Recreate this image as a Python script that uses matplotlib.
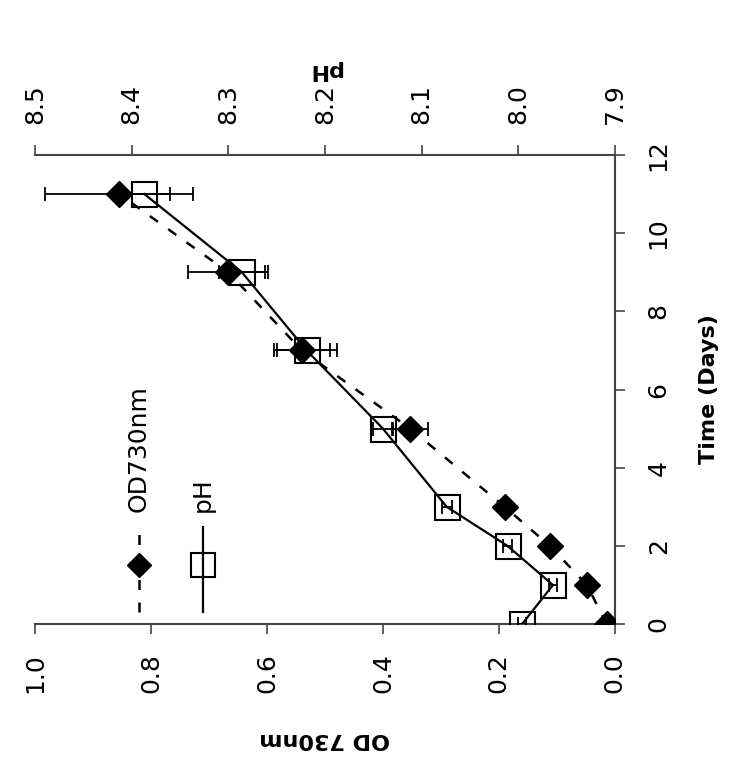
import numpy as np
import matplotlib.pyplot as plt

days = [0, 1, 2, 3, 5, 7, 9, 11]
od730 = [0.014, 0.048, 0.112, 0.19, 0.353, 0.54, 0.667, 0.855]
od_err = [0.005, 0.006, 0.008, 0.01, 0.031, 0.048, 0.069, 0.128]
ph = [7.996, 7.964, 8.011, 8.074, 8.14, 8.219, 8.286, 8.387]
ph_err = [0.004, 0.004, 0.005, 0.005, 0.01, 0.031, 0.024, 0.027]

od_ticks = np.arange(0, 1.01, 0.2)
ph_ticks = np.arange(7.9, 8.51, 0.1)
day_ticks = np.arange(0, 13, 2)

plt.rcParams['font.family'] = 'DejaVu Sans'
spine_col = '#444444'

fig = plt.figure(figsize=(7.47, 7.63), dpi=100)
# chart is drawn turned by 90 degrees: time runs upward, OD/pH run right to left
ax = fig.add_axes([0.047, 0.182, 0.776, 0.615])
ax2 = ax.twiny()

# OD730nm series
ax.plot(od730, days, color='k', lw=1.8, ls=(0, (4, 5)), zorder=3)
ax.errorbar(od730, days, xerr=od_err, fmt='D', color='k', ms=13,
            ecolor='k', elinewidth=1.3, capsize=5, capthick=1.3, zorder=4)

# pH series
ax2.errorbar(ph, days, xerr=ph_err, fmt='none', ecolor='k',
             elinewidth=1.3, capsize=5, capthick=1.3, zorder=3)
ax2.plot(ph, days, color='k', lw=1.6, marker='s', ms=18,
         mfc='none', mec='k', mew=1.5, zorder=4)

ax.set_xlim(1.0, 0.0)
ax.set_ylim(0, 12)
ax2.set_xlim(8.5, 7.9)

ax.set_xticks(od_ticks)
ax.set_xticklabels(['%.1f' % v for v in od_ticks], rotation=90)
ax2.set_xticks(ph_ticks)
ax2.set_xticklabels(['%.1f' % v for v in ph_ticks], rotation=90)
ax.set_yticks(day_ticks)
ax.set_yticklabels([str(v) for v in day_ticks], rotation=90, va='center')
ax.yaxis.tick_right()
ax.yaxis.set_label_position('right')

ax.tick_params(axis='x', direction='out', length=7, width=1.2, color=spine_col,
               pad=14, labelsize=18)
ax.tick_params(axis='y', direction='out', length=7, width=1.2, color=spine_col,
               pad=16, labelsize=18, left=False, right=True)
ax2.tick_params(axis='x', direction='out', length=7, width=1.2, color=spine_col,
                pad=15, labelsize=18)

for s in ['left', 'top']:
    ax.spines[s].set_visible(False)
for s in ['left', 'right', 'bottom']:
    ax2.spines[s].set_visible(False)
for s in ['bottom', 'right']:
    ax.spines[s].set_color(spine_col)
    ax.spines[s].set_linewidth(1.5)
ax2.spines['top'].set_color(spine_col)
ax2.spines['top'].set_linewidth(1.5)

ax.set_xlabel('OD 730nm', fontsize=16, fontweight='bold', rotation=180, labelpad=26)
ax2.set_xlabel('pH', fontsize=16, fontweight='bold', rotation=180, labelpad=6)
ax.set_ylabel('Time (Days)', fontsize=16, fontweight='bold', rotation=90, labelpad=20)

# legend, turned like the rest of the chart
ax.plot([0.179, 0.179], [0.026, 0.207], transform=ax.transAxes,
        color='k', lw=1.8, ls=(0, (4, 5)))
ax.plot([0.179], [0.126], 'D', color='k', ms=12, transform=ax.transAxes)
ax.text(0.179, 0.239, 'OD730nm', rotation=90, ha='center', va='bottom',
        fontsize=18, transform=ax.transAxes)
ax.plot([0.29, 0.29], [0.026, 0.207], transform=ax.transAxes, color='k', lw=1.6)
ax.plot([0.29], [0.126], 's', ms=17, mfc='none', mec='k', mew=1.5,
        transform=ax.transAxes)
ax.text(0.29, 0.239, 'pH', rotation=90, ha='center', va='bottom',
        fontsize=18, transform=ax.transAxes)

fig.savefig('out.png', dpi=100)
